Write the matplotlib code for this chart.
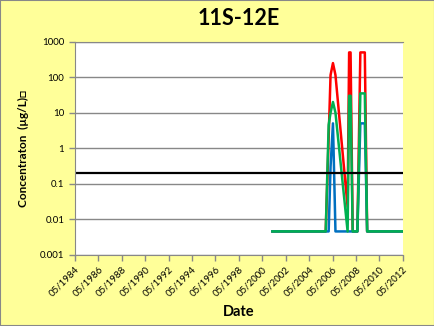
import numpy as np
import pandas as pd
import matplotlib
matplotlib.use('Agg')
import matplotlib.pyplot as plt
import matplotlib.dates as mdates
from matplotlib.ticker import FixedLocator, FixedFormatter

plt.rcParams['font.family'] = ['Lato', 'DejaVu Sans']

# sample dates and concentrations (ug/L)
dates = pd.to_datetime(['2001-03-15', '2005-10-01', '2006-01-01', '2006-03-01',
                        '2006-05-15', '2006-08-01', '2007-08-15', '2007-10-01',
                        '2007-11-15', '2008-01-20', '2008-06-15', '2008-09-15',
                        '2009-02-01', '2009-04-15', '2012-05-01'])
red = [0.0045, 0.0045, 2, 115, 250, 115, 0.022, 500, 500, 0.0045, 0.0045, 500, 500, 0.0045, 0.0045]
blue = [0.0045, 0.0045, 0.0045, 0.3, 5, 0.0045, 0.0045, 0.0045, 0.0045, 0.0045, 0.0045, 5, 5, 0.0045, 0.0045]
green = [0.0045, 0.0045, 4.5, 10, 20, 10, 0.0045, 30, 30, 0.0045, 0.0045, 35, 35, 0.0045, 0.0045]
limit = 0.2

ytick_vals = [0.001, 0.01, 0.1, 1, 10, 100, 1000]
ytick_labels = ['0.001', '0.01', '0.1', '1', '10', '100', '1000']
xtick_dates = pd.date_range('1984-05-01', '2012-05-01', freq='24MS')

fig = plt.figure(figsize=(4.35, 3.26), dpi=100, facecolor='#FFFF99')
ax = fig.add_axes([0.172, 0.219, 0.754, 0.653])
ax.set_facecolor('white')

ax.plot(dates, red, color='#FF0000', lw=1.8)
ax.plot(dates, blue, color='#0070C0', lw=1.8)
ax.plot(dates, green, color='#00B050', lw=1.8)
ax.axhline(limit, color='black', lw=1.6)

ax.set_yscale('log')
ax.set_ylim(0.001, 1000)
ax.yaxis.set_major_locator(FixedLocator(ytick_vals))
ax.yaxis.set_major_formatter(FixedFormatter(ytick_labels))
ax.yaxis.set_minor_locator(FixedLocator([]))
ax.grid(axis='y', color='#888888', lw=1)
ax.set_axisbelow(True)

ax.set_xlim(xtick_dates[0], xtick_dates[-1])
ax.set_xticks(xtick_dates)
ax.xaxis.set_major_formatter(mdates.DateFormatter('%m/%Y'))
plt.setp(ax.get_xticklabels(), rotation=45, ha='right', rotation_mode='anchor')

ax.tick_params(axis='both', labelsize=7, length=4, color='#888888', width=1)
for s in ['left', 'bottom', 'top']:
    ax.spines[s].set_color('#888888')
ax.spines['right'].set_visible(False)

ax.set_title('11S-12E', fontsize=15.5, fontweight='bold', pad=12)
ax.set_ylabel('Concentraton  (\u00b5g/L)\u25a1', fontsize=8.5, fontweight='bold', labelpad=8)
ax.set_xlabel('Date', fontsize=10.5, fontweight='bold', labelpad=5)

border = plt.Rectangle((0, 0), 1, 1, transform=fig.transFigure, fill=False,
                       edgecolor='#888888', lw=1.5)
fig.patches.append(border)

fig.savefig('out.png', dpi=100, facecolor=fig.get_facecolor())
